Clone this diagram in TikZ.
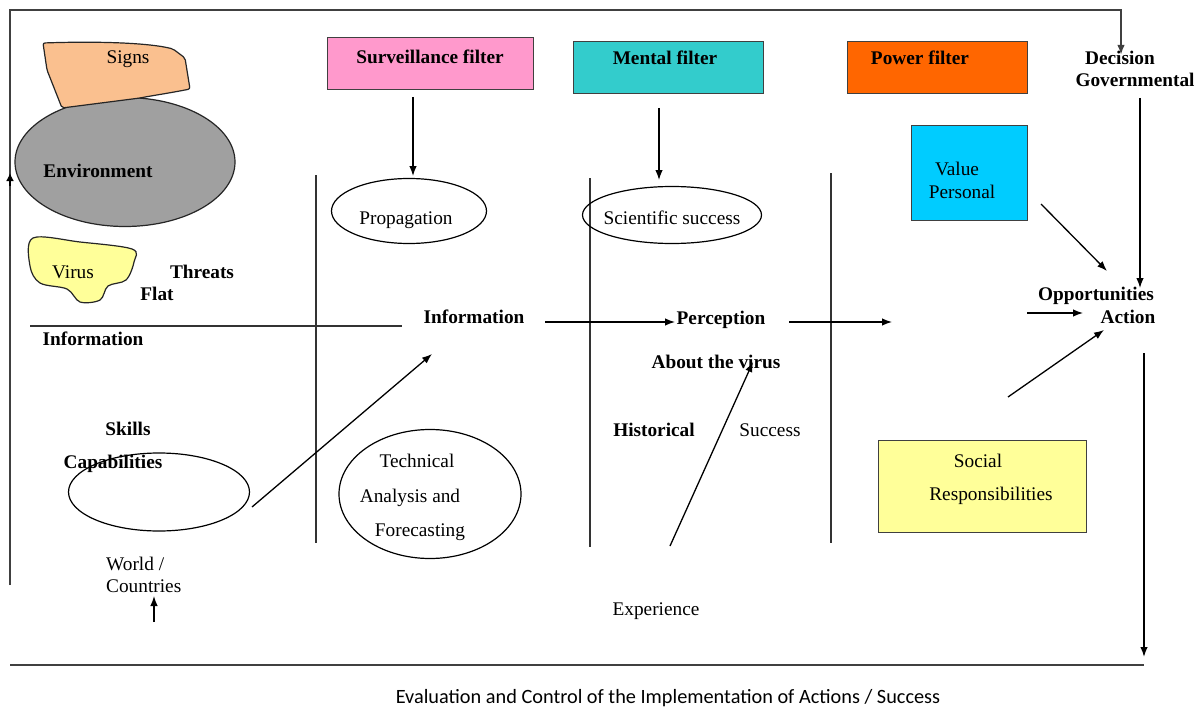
\documentclass[tikz,border=0pt]{standalone}
\usepackage{fontspec}
\setmainfont{Liberation Serif}
\newfontfamily\captionfont{Carlito}
\usetikzlibrary{arrows.meta,shapes.geometric}

\definecolor{peach}{HTML}{FAC08F}
\definecolor{envgray}{HTML}{A0A0A0}
\definecolor{paleyellow}{HTML}{FFFF99}
\definecolor{pinkfill}{HTML}{FF99CC}
\definecolor{tealfill}{HTML}{33CCCC}
\definecolor{orangefill}{HTML}{FF6600}
\definecolor{skyfill}{HTML}{00CCFF}

\begin{document}
\begin{tikzpicture}[x=1pt,y=-1pt,
  lbl/.style={anchor=base, inner sep=0pt, font=\fontsize{19.3}{21}\selectfont},
  blbl/.style={lbl, font=\fontsize{19.3}{21}\selectfont\bfseries},
  lblw/.style={lbl, anchor=base west},
  tip/.style={-{Latex[length=10pt,width=7.5pt]}},
  arr/.style={line width=1.3pt, tip},
  loopline/.style={draw=black!75, line width=2.2pt},
  divider/.style={draw=black!80, line width=1.6pt},
  oval/.style={ellipse, draw=black, line width=1.2pt, inner sep=0pt},
  card/.style={rectangle, draw=black!75, line width=1.4pt, inner sep=0pt, anchor=north west},
]
\useasboundingbox[fill=white] (0,0) rectangle (1203,709);

% ---------- feedback loop frame ----------
\coordinate (loopfoot) at (10,585);
\coordinate (decin) at (1121,55);
\draw[loopline, tip] (loopfoot) -- (10,10) -| (decin);
\coordinate (loopmarkA) at (10,186);
\coordinate (loopmarkB) at (10,173);
\draw[line width=1.8pt, -{Latex[length=8pt,width=8pt]}] (loopmarkA) -- (loopmarkB);
\coordinate (baseL) at (10,665);
\coordinate (baseR) at (1144,665);
\draw[loopline] (baseL) -- (baseR);
\coordinate (actout) at (1144,353);
\coordinate (actdown) at (1144,657);
\draw[arr, line width=1.5pt] (actout) -- (actdown);

% ---------- column dividers ----------
\coordinate (d1t) at (316,175); \coordinate (d1b) at (316,543);
\coordinate (d2t) at (590,178); \coordinate (d2b) at (590,547);
\coordinate (d3t) at (831,173); \coordinate (d3b) at (831,543);
\draw[divider] (d1t) -- (d1b);
\draw[divider] (d2t) -- (d2b);
\draw[divider] (d3t) -- (d3b);
\coordinate (hl) at (30,326); \coordinate (hr) at (402,326);
\draw[divider] (hl) -- (hr);

% ---------- environment cluster ----------
\node[ellipse, draw=black!85, line width=1.2pt, fill=envgray, inner sep=0pt,
      minimum width=220pt, minimum height=129pt] (env) at (125,162) {};
\draw[draw=black!85, line width=1.2pt, fill=peach, rounded corners=2pt]
  (43,43) .. controls (100,41) and (150,43) .. (173,49) -- (185,58) -- (190,89)
  .. controls (170,93) and (150,96) .. (140,98) -- (62,108) -- (47,70) -- cycle;
\node[lbl] (signs) at (128,64) {Signs};
\node[blbl] (envtxt) at (98,177) {Environment};

\draw[draw=black!85, line width=1.2pt, fill=paleyellow]
  plot[smooth cycle, tension=0.55] coordinates {(33,238) (80,242) (132,249) (134,262)
  (126,280) (108,286) (100,300) (80,302) (67,289) (40,283) (30,266)};
\node[lbl] (virus) at (73,278) {Virus};
\node[blbl] (threats) at (202,278) {Threats};
\node[blbl] (flat) at (157,300) {Flat};
\node[blbl] (infoleft) at (93,345) {Information};

% ---------- capabilities ----------
\node[blbl] (skills) at (128,435) {Skills};
\node[oval, minimum width=181pt, minimum height=78pt] (capov) at (159,492) {};
\node[blbl] (capab) at (113,468) {Capabilities};
\node[lblw] (world) at (106,570) {World /};
\node[lblw] (countries) at (106,592) {Countries};
\coordinate (worldin) at (154,622);
\coordinate (worldtip) at (154,596);
\draw[arr] (worldin) -- (worldtip);

% ---------- filters ----------
\node[card, fill=pinkfill, minimum width=206pt, minimum height=52pt] (surv) at (327,37) {};
\node[blbl] (survtxt) at (430,64) {Surveillance filter};
\node[card, fill=tealfill, minimum width=190pt, minimum height=52pt] (mental) at (573,41) {};
\node[blbl] (mentaltxt) at (665,65) {Mental filter};
\node[card, fill=orangefill, minimum width=180pt, minimum height=52pt] (power) at (847,41) {};
\node[blbl] (powertxt) at (920,65) {Power filter};

\node[blbl] (decision) at (1120,65) {Decision};
\node[blbl] (govern) at (1135,87) {Governmental};

% ---------- second column ----------
\node[oval, minimum width=155pt, minimum height=65pt] (prop) at (409,211) {};
\node[lbl] (proptxt) at (406,224) {Propagation};
\coordinate (survout) at (413,97);
\coordinate (propin) at (413,176);
\draw[arr] (survout) -- (propin);

\node[blbl] (infomid) at (474,323) {Information};
\node[oval, minimum width=182pt, minimum height=129pt] (tech) at (430,494) {};
\node[lbl] (tech1) at (417,467) {Technical};
\node[lbl] (tech2) at (410,502) {Analysis and};
\node[lbl] (tech3) at (420,536) {Forecasting};
\coordinate (capout) at (252,507);
\coordinate (infoin) at (432,354);
\draw[arr] (capout) -- (infoin);

% ---------- third column ----------
\node[oval, minimum width=179pt, minimum height=57pt] (sci) at (672,215) {};
\node[lbl] (scitxt) at (672,224) {Scientific success};
\coordinate (mentout) at (659,108);
\coordinate (sciin) at (659,180);
\draw[arr] (mentout) -- (sciin);

\node[blbl] (percep) at (721,324) {Perception};
\node[blbl] (aboutvirus) at (716,368) {About the virus};
\node[blbl] (hist) at (654,436) {Historical};
\node[lbl] (success) at (770,436) {Success};
\node[lbl] (exper) at (656,615) {Experience};
\coordinate (infoout) at (545,322);
\coordinate (percin) at (675,322);
\draw[arr] (infoout) -- (percin);
\coordinate (experout) at (670,546);
\coordinate (virusin) at (753,362);
\draw[arr] (experout) -- (virusin);
\coordinate (percout) at (789,322);
\coordinate (powerin) at (892,322);
\draw[arr] (percout) -- (powerin);

% ---------- power column ----------
\node[card, fill=skyfill, minimum width=116pt, minimum height=95pt] (value) at (911,125) {};
\node[lbl] (value1) at (957,175) {Value};
\node[lbl] (value2) at (962,198) {Personal};
\node[card, fill=paleyellow, minimum width=208pt, minimum height=92pt] (social) at (878,440) {};
\node[lbl] (social1) at (978,467) {Social};
\node[lbl] (social2) at (991,500) {Responsibilities};

\node[blbl] (opp) at (1096,300) {Opportunities};
\node[blbl] (action) at (1128,323) {Action};
\coordinate (govout) at (1140,98);
\coordinate (oppin) at (1140,288);
\draw[arr] (govout) -- (oppin);
\coordinate (valout) at (1041,204);
\coordinate (valin) at (1107,271);
\draw[arr] (valout) -- (valin);
\coordinate (sideout) at (1027,313);
\coordinate (sidein) at (1083,313);
\draw[arr] (sideout) -- (sidein);
\coordinate (socout) at (1008,397);
\coordinate (socin) at (1104,330);
\draw[arr] (socout) -- (socin);

% ---------- caption ----------
\node[anchor=base, inner sep=0pt, font=\captionfont\fontsize{20.3}{22}\selectfont]
  (caption) at (668,703) {Evaluation and Control of the Implementation of Actions / Success};
\end{tikzpicture}
\end{document}
